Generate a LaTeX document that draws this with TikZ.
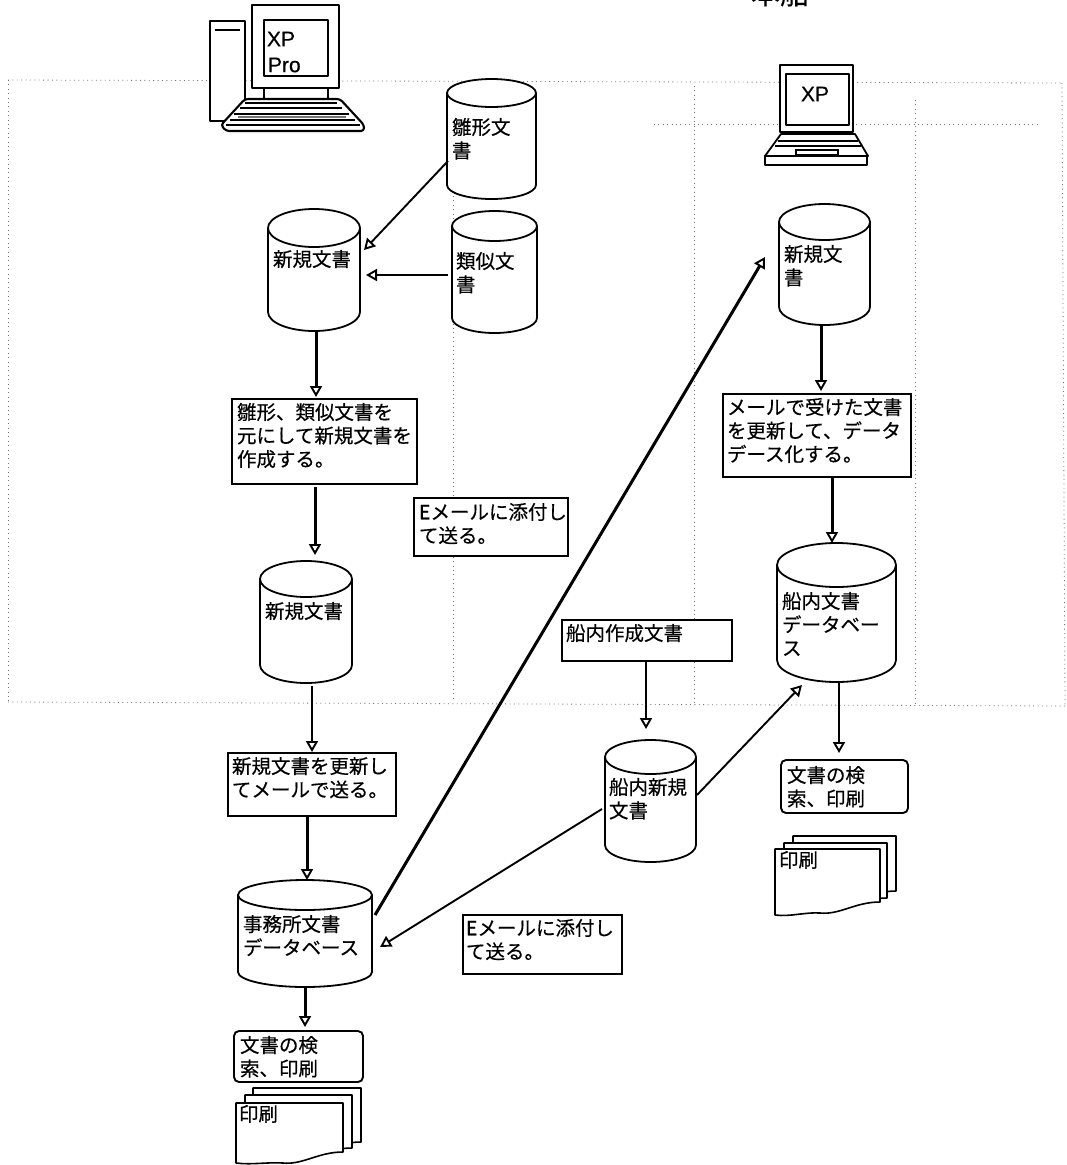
\documentclass[tikz,border=0pt]{standalone}
\usepackage{fontspec}
\setmainfont[FakeBold=0.4]{Noto Sans CJK JP}
\newfontfamily\pcfont[FakeBold=0.4]{Liberation Sans}
\usetikzlibrary{arrows.meta,calc}
\tikzset{
  shapeln/.style={draw=black,line width=1.8pt,fill=white,line join=round},
  boxln/.style={draw=black,line width=1.9pt,fill=white,inner sep=0pt,outer sep=0pt},
  ghost/.style={draw=black!55,line width=.8pt,dash pattern=on .9pt off 3.5pt},
  conn/.style={draw=black,line width=1.9pt,-{Triangle[open,fill=white,length=11pt,width=12pt,line width=1.9pt]}},
  connb/.style={conn,line width=3pt},
  plain/.style={inner sep=0pt,outer sep=0pt},
  pclab/.style={plain,font=\pcfont\fontsize{21}{23}\selectfont,anchor=west},
}
% \cylnode{name}{xl}{yt}{xr}{yb}{ry}{top off}{left pad}{text}
\newcommand\cylnode[9]{%
  \pgfmathsetmacro\cxx{(#2+#4)/2}\pgfmathsetmacro\cyy{(#3+#5)/2}%
  \pgfmathsetmacro\rxx{(#4-#2)/2}\pgfmathsetmacro\hgt{#5-#3}\pgfmathsetmacro\wid{#4-#2}%
  \draw[shapeln] (#2,{#3+#6}) -- (#2,{#5-#6}) arc[start angle=180,end angle=0,x radius=\rxx,y radius=#6]
     -- (#4,{#3+#6}) arc[start angle=0,end angle=-180,x radius=\rxx,y radius=#6] -- cycle;
  \draw[shapeln,fill=none] (#2,{#3+#6}) arc[start angle=180,end angle=0,x radius=\rxx,y radius=#6];
  \node[plain] (#1) at (\cxx,\cyy) {\parbox[c][\hgt pt][t]{\wid pt}{\fontsize{19.5}{23.5}\selectfont\leftskip=#8pt\rightskip=-30pt\parindent=0pt\vspace*{#7pt}#9}};
}
% \boxnode{name}{x1}{y1}{x2}{y2}{top off}{left pad}{text}{extra style}
\newcommand\boxnode[9]{%
  \pgfmathsetmacro\cxx{(#2+#4)/2}\pgfmathsetmacro\cyy{(#3+#5)/2}%
  \pgfmathsetmacro\hgt{#5-#3}\pgfmathsetmacro\wid{#4-#2}%
  \node[boxln,#9] (#1) at (\cxx,\cyy) {\parbox[c][\hgt pt][t]{\wid pt}{\fontsize{19.5}{23.5}\selectfont\leftskip=#7pt\rightskip=-30pt\parindent=0pt\vspace*{#6pt}#8}};
}
% \docsheet{x left}{y top}{x right}{y bottom left}{y bottom right + 5}
\newcommand\docsheet[5]{%
  \draw[shapeln,line width=1.6pt] (#1,#2) -- (#3,#2) -- (#3,{#5-5})
     .. controls ({#3-25},{#5-5}) and ({#3-40},{#5+8}) .. ({#3-60},{#5+6})
     .. controls ({#3-75},{#5+5}) and ({#1+15},{#4+2}) .. (#1,#4) -- cycle;
}
\begin{document}
\begin{tikzpicture}[x=1pt,y=-1pt]
\useasboundingbox (0,0) rectangle (1067,1165);
\clip (0,0) rectangle (1067,1165);
\fill[white] (0,0) rectangle (1067,1165);

% show-through table frame of the scanned page
\draw[ghost] (8,80) -- (1062,83);
\draw[ghost] (8,80) -- (8,702);
\draw[ghost] (8,702) -- (1065,706);
\draw[ghost] (1062,83) -- (1065,706);
\draw[ghost] (453,86) -- (453,700);
\draw[ghost] (694,86) -- (694,704);
\draw[ghost] (915,100) -- (915,704);
\draw[ghost] (654,124) -- (1040,124);

% title, cut by the page edge
\node[plain,font=\fontsize{29}{29}\selectfont] (title) at (780,-7) {本船};

% desktop computer
\draw[shapeln] (210,21) rectangle (245,121);
\draw[line width=2.4pt] (215,30) -- (240,30);
\draw[shapeln] (264,86) rectangle (328,102);
\draw[shapeln] (252,5) rectangle (339,88);
\draw[shapeln,line width=1.4pt] (264,20) rectangle (328,76);
\draw[shapeln,line width=2.1pt,rounded corners=3pt] (245,99) -- (340,99) -- (364,125) -- (364,131) -- (226,131) -- (221,125) -- cycle;
\draw[line width=1.2pt] (245,103) -- (337,103) (240,108) -- (342,108) (234,114) -- (349,114) (230,120) -- (355,120) (226,125) -- (360,125);
\draw[black!55,line width=2.6pt] (238,117) -- (346,117);
\node[pclab] (xp1) at (267,39) {XP};
\node[pclab] (xp2) at (268,65) {Pro};

% laptop
\draw[shapeln] (780,65) rectangle (853,132);
\draw[shapeln,line width=1.7pt] (786,74) rectangle (849,125);
\draw[shapeln] (781,134) -- (855,134) -- (868,156) -- (765,156) -- cycle;
\draw[line width=1.2pt] (778,141) -- (858,141) (775,146) -- (861,146);
\draw[line width=1.2pt] (796,150) rectangle (838,155);
\draw[shapeln] (765,156) rectangle (867,165);
\node[pclab] (xp3) at (801,94) {XP};

% left column
\cylnode{hina}{447}{79}{536}{199}{14}{39}{5}{雛形文\\書}
\cylnode{shina}{268}{209}{360}{331}{19}{41}{5}{新規文書}
\cylnode{rui}{452}{211}{537}{333}{15}{41}{4}{類似文\\書}
\boxnode{boxa}{232}{399}{417}{484}{4}{5}{雛形、類似文書を\\元にして新規文書を\\作成する。}{}
\boxnode{mailsa}{414}{498}{568}{556}{5}{5}{Eメールに添付し\\て送る。}{}
\cylnode{shinb}{260}{561}{352}{683}{18}{41}{5}{新規文書}
\boxnode{boxb}{228}{753}{396}{816}{4}{4}{新規文書を更新し\\てメールで送る。}{}
\cylnode{jim}{238}{880}{372}{987}{15}{35}{5}{事務所文書\\データベース}
\boxnode{srcha}{234}{1031}{363}{1082}{5}{6}{文書の検\\索、印刷}{rounded corners=5pt}
\docsheet{253}{1088}{361}{1142}{1147}
\docsheet{245}{1095}{352}{1148}{1153}
\docsheet{236}{1103}{343}{1163}{1157}
\node[plain,anchor=north west,font=\fontsize{19.5}{23.5}\selectfont] (insa) at (239,1105) {印刷};

% right column
\cylnode{shinc}{779}{204}{870}{325}{18}{41}{5}{新規文\\書}
\boxnode{boxc}{723}{394}{911}{477}{4}{4}{メールで受けた文書\\を更新して、データ\\デース化する。}{}
\cylnode{sdb}{777}{543}{896}{682}{22}{49}{5}{船内文書\\データベー\\ス}
\boxnode{sakusei}{562}{620}{732}{661}{4}{4}{船内作成文書}{}
\cylnode{snew}{605}{740}{696}{862}{17}{38}{4}{船内新規\\文書}
\boxnode{mailsb}{463}{915}{622}{974}{4}{3}{Eメールに添付し\\て送る。}{}
\boxnode{srchb}{781}{760}{908}{813}{6}{6}{文書の検\\索、印刷}{rounded corners=5pt}
\docsheet{793}{836}{896}{891}{896}
\docsheet{784}{843}{887}{898}{903}
\docsheet{775}{849}{880}{915}{907}
\node[plain,anchor=north west,font=\fontsize{19.5}{23.5}\selectfont] (insb) at (779,851) {印刷};

% connectors
\draw[conn] ($(hina.south west)+(1,-38)$) -- ($(shina.north east)+(4,41)$);
\draw[conn] ($(rui.north west)+(-4,64)$) -- ($(shina.north east)+(6,66)$);
\draw[connb] ($(shina.south)+(2,0)$) -- ($(boxa.north)+(-8.5,-2)$);
\draw[connb] ($(boxa.south)+(-9.5,3)$) -- ($(shinb.north)+(9,-6)$);
\draw[conn] ($(shinb.south)+(6,3)$) -- ($(boxb.north)+(0,-1)$);
\draw[connb] ($(boxb.south)+(-5,0)$) -- ($(jim.north)+(2,0)$);
\draw[connb] ($(jim.south)+(0,0)$) -- ($(srcha.north)+(6.5,-4)$);
\draw[connb] ($(jim.north east)+(3,35)$) -- ($(shinc.north west)+(-14,53)$);
\draw[conn] ($(snew.north west)+(-3,69)$) -- ($(jim.north east)+(8,67)$);
\draw[conn] ($(snew.north east)+(1,55)$) -- ($(sdb.south west)+(25,3)$);
\draw[connb] ($(shinc.south)+(-3.5,0)$) -- ($(boxc.north)+(4,-3)$);
\draw[connb] ($(boxc.south)+(15,0)$) -- ($(sdb.north)+(-4.5,0)$);
\draw[conn] ($(sakusei.south)+(-1,1)$) -- ($(snew.north)+(-4.5,-11)$);
\draw[conn] ($(sdb.south)+(2.5,0)$) -- ($(srchb.north)+(-5.5,-7)$);
\end{tikzpicture}
\end{document}
